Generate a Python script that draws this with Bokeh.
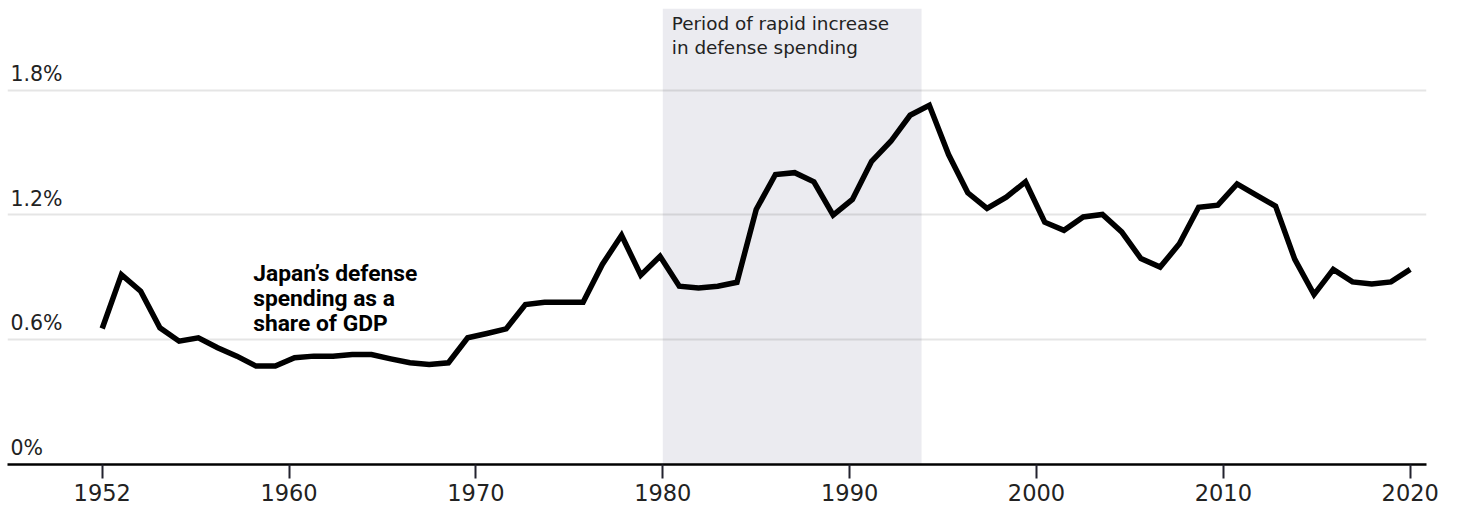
from bokeh.plotting import figure
from bokeh.models import Range1d, FixedTicker, BoxAnnotation, ColumnDataSource
from bokeh.embed import file_html
from bokeh.resources import INLINE
from bokeh.core.properties import value

# ---------------- data ----------------
years = list(range(1952, 2021))
share = [
    0.654, 0.913, 0.833, 0.657, 0.593, 0.609, 0.561, 0.521, 0.473, 0.473,   # 1952-1961
    0.513, 0.521, 0.521, 0.529, 0.529, 0.508, 0.489, 0.481, 0.489, 0.609,   # 1962-1971
    0.630, 0.652, 0.769, 0.780, 0.780, 0.780, 0.962, 1.102, 0.910, 1.001,   # 1972-1981
    0.857, 0.849, 0.857, 0.876, 1.226, 1.394, 1.403, 1.359, 1.199, 1.274,   # 1982-1991
    1.458, 1.554, 1.679, 1.727, 1.490, 1.306, 1.231, 1.285, 1.359, 1.165,   # 1992-2001
    1.126, 1.190, 1.202, 1.118, 0.990, 0.949, 1.061, 1.237, 1.247, 1.349,   # 2002-2011
    1.295, 1.242, 0.986, 0.817, 0.938, 0.878, 0.868, 0.878, 0.938,          # 2012-2020
]
y_ticks = [0.0, 0.6, 1.2, 1.8]
y_tick_labels = ["0%", "0.6%", "1.2%", "1.8%"]
# axis-scale years at which the reference draws its x ticks, and their labels
x_tick_years = [1950, 1960, 1970, 1980, 1990, 2000, 2010, 2020]
x_tick_labels = ["1952", "1960", "1970", "1980", "1990", "2000", "2010", "2020"]
band_years = [1980, 1994]
band_text = ["Period of rapid increase", "in defense spending"]
series_text = ["Japan\u2019s defense", "spending as a", "share of GDP"]

# ---------------- layout helpers ----------------
def axis_pos(y):
    """Reference axis scale (first tick at data start) -> data-year coordinate."""
    return years[0] + (y - 1950) * (years[-1] - years[0]) / (2020 - 1950)

PX_PER_UNIT_Y = 208.0   # pixels per 1 percentage point
PX_PER_YEAR = 19.236
TEXT_SHIFT = 7.5 / PX_PER_UNIT_Y   # compensates svg baseline placement

p = figure(width=1460, height=506, output_backend="svg", toolbar_location=None,
           x_range=Range1d(1947.077, 2020.847), y_range=Range1d(0, 2.1923),
           y_axis_location=None, x_axis_location="below",
           min_border_left=7, min_border_right=34, min_border_top=8, min_border_bottom=42,
           outline_line_color=None, background_fill_color="white", border_fill_color="white")

# shaded period
band = BoxAnnotation(left=axis_pos(band_years[0]), right=axis_pos(band_years[1] - 0.15),
                     fill_color="#ebebf0", fill_alpha=1.0, line_color=None, level="image")
p.add_layout(band)

# grid
p.xgrid.visible = False
p.ygrid.ticker = FixedTicker(ticks=[t for t in y_ticks if t > 0])
p.ygrid.grid_line_color = "black"
p.ygrid.grid_line_alpha = 0.1
p.ygrid.grid_line_width = 2

# x axis
tick_pos = [axis_pos(t) for t in x_tick_years]
ax = p.xaxis[0]
ax.ticker = FixedTicker(ticks=tick_pos)
ax.major_label_overrides = {tp: lab for tp, lab in zip(tick_pos, x_tick_labels)}
ax.axis_line_color = "black"
ax.axis_line_width = 2.5
ax.major_tick_line_color = "#23232f"
ax.major_tick_line_width = 2
ax.major_tick_out = 14
ax.major_tick_in = 0
ax.minor_tick_line_color = None
ax.major_label_text_font = "DejaVu Sans"
ax.major_label_text_font_size = "22.5px"
ax.major_label_text_color = "#222222"
ax.major_label_standoff = 5

# y labels (inside plot, above gridlines)
lab_src = ColumnDataSource(dict(
    x=[1947.077 + 3 / PX_PER_YEAR] * len(y_ticks),
    y=[t + 8.7 / PX_PER_UNIT_Y + TEXT_SHIFT for t in y_ticks],
    text=y_tick_labels))
p.text(x="x", y="y", text="text", source=lab_src, text_font=value("DejaVu Sans"),
       text_font_size="20.5px", text_color="#222222", text_baseline="alphabetic",
       text_align="left")

# series line
p.line(years, share, line_width=5.5, line_color="black", line_join="miter")

# band annotation text
bt_src = ColumnDataSource(dict(
    x=[axis_pos(band_years[0]) + 9 / PX_PER_YEAR] * 2,
    y=[2.0846 + TEXT_SHIFT, 1.9668 + TEXT_SHIFT],
    text=band_text))
p.text(x="x", y="y", text="text", source=bt_src, text_font=value("DejaVu Sans"),
       text_font_size="18.4px", text_color="#222222", text_baseline="alphabetic",
       text_align="left")

# series label
st_src = ColumnDataSource(dict(
    x=[1959.85] * 3,
    y=[0.881 + TEXT_SHIFT, 0.7625 + TEXT_SHIFT, 0.643 + TEXT_SHIFT],
    text=series_text))
p.text(x="x", y="y", text="text", source=st_src, text_font=value("Roboto"),
       text_font_style="bold", text_font_size="22.8px", text_color="black",
       text_baseline="alphabetic", text_align="left")

open("out.html", "w").write(file_html(p, INLINE))
